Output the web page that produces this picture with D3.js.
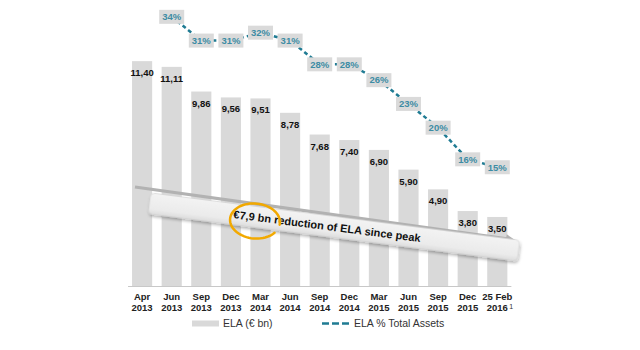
<!DOCTYPE html>
<html>
<head>
<meta charset="utf-8">
<script src="https://cdn.jsdelivr.net/npm/d3@7"></script>
<style>
  body { margin: 0; background: #fff; }
  svg { display: block; font-family: "Liberation Sans", Arial, sans-serif; }
</style>
</head>
<body>
<svg width="640" height="350"></svg>
<script>
// Chart data
const months = ['Apr', 'Jun', 'Sep', 'Dec', 'Mar', 'Jun', 'Sep', 'Dec', 'Mar', 'Jun', 'Sep', 'Dec', '25 Feb'];
const years  = ['2013', '2013', '2013', '2013', '2014', '2014', '2014', '2014', '2015', '2015', '2015', '2015', '2016'];
const elaValues = [11.40, 11.11, 9.86, 9.56, 9.51, 8.78, 7.68, 7.40, 6.90, 5.90, 4.90, 3.80, 3.50];
const pctValues = [null, 34, 31, 31, 32, 31, 28, 28, 26, 23, 20, 16, 15];
const legendLabels = ['ELA (€ bn)', 'ELA % Total Assets'];

const barColor = '#d9d9d9';
const lineColor = '#1f7b93';
const pctText = '#3d8ca4';

const svg = d3.select('svg');
const baseline = 286;

const x = d3.scaleBand()
    .domain(d3.range(months.length))
    .range([127.3, 512.1])
    .paddingInner(0.32)
    .paddingOuter(0.16);

const y = d3.scaleLinear().domain([0, 14.5]).range([baseline, 0]);
const y2 = d3.scaleLinear().domain([0, 36]).range([baseline, 1]);

const fmt = v => d3.format('.2f')(v).replace('.', ',');
const cx = i => x(i) + x.bandwidth() / 2;

// Bars
svg.append('g').selectAll('rect').data(elaValues)
  .join('rect')
    .attr('x', (d, i) => x(i))
    .attr('y', d => y(d))
    .attr('width', x.bandwidth())
    .attr('height', d => baseline - y(d))
    .attr('fill', barColor);

// Baseline
svg.append('line')
    .attr('x1', x(0) - 4).attr('x2', x(12) + x.bandwidth() + 4)
    .attr('y1', baseline + 0.5).attr('y2', baseline + 0.5)
    .attr('stroke', '#c8c8c8');

// Value labels
svg.append('g').selectAll('text').data(elaValues)
  .join('text')
    .attr('x', (d, i) => cx(i))
    .attr('y', d => y(d) + 15)
    .attr('text-anchor', 'middle')
    .attr('font-size', 9.5)
    .attr('font-weight', 'bold')
    .attr('fill', '#111')
    .text(fmt);

// Percentage line
const pctPoints = pctValues.map((p, i) => ({ p, i })).filter(d => d.p !== null);
const line = d3.line()
    .x(d => cx(d.i))
    .y(d => y2(d.p));

svg.append('path')
    .datum(pctPoints)
    .attr('d', line)
    .attr('fill', 'none')
    .attr('stroke', lineColor)
    .attr('stroke-width', 2.5)
    .attr('stroke-dasharray', '4,3');

const pctLabels = svg.append('g').selectAll('g').data(pctPoints)
  .join('g')
    .attr('transform', d => `translate(${cx(d.i)},${y2(d.p)})`);

pctLabels.append('rect')
    .attr('x', -12.5).attr('y', -7)
    .attr('width', 25).attr('height', 14)
    .attr('fill', '#dadada');

pctLabels.append('text')
    .attr('text-anchor', 'middle')
    .attr('dy', '0.35em')
    .attr('font-size', 9.5)
    .attr('font-weight', 'bold')
    .attr('fill', pctText)
    .text(d => d.p + '%');

// Category labels
const ticks = svg.append('g').selectAll('text').data(months)
  .join('text')
    .attr('x', (d, i) => cx(i))
    .attr('y', 300)
    .attr('text-anchor', 'middle')
    .attr('font-size', 9.5)
    .attr('font-weight', 'bold')
    .attr('fill', '#222');
ticks.append('tspan').text(d => d);
ticks.append('tspan')
    .attr('x', (d, i) => cx(i))
    .attr('dy', 11)
    .text((d, i) => years[i]);

// Footnote marker after the last year
svg.append('text')
    .attr('x', cx(12) + 12)
    .attr('y', 309)
    .attr('font-size', 7)
    .attr('fill', '#333')
    .text('1');

// Annotation: arrow and banner
const defs = svg.append('defs');
const shadow = defs.append('filter').attr('id', 'shadow')
    .attr('x', '-10%').attr('y', '-50%').attr('width', '120%').attr('height', '200%');
shadow.append('feDropShadow')
    .attr('dx', 1).attr('dy', 2).attr('stdDeviation', 1.5)
    .attr('flood-color', '#000').attr('flood-opacity', 0.3);

const grad = defs.append('linearGradient').attr('id', 'bannerGrad')
    .attr('x1', 0).attr('y1', 0).attr('x2', 0).attr('y2', 1);
grad.append('stop').attr('offset', '0%').attr('stop-color', '#f3f3f3');
grad.append('stop').attr('offset', '75%').attr('stop-color', '#ebebeb');
grad.append('stop').attr('offset', '100%').attr('stop-color', '#dcdcdc');

const arrowA = [135, 187], arrowB = [515, 240];
const ang = Math.atan2(arrowB[1] - arrowA[1], arrowB[0] - arrowA[0]) * 180 / Math.PI;
const arrowLen = Math.hypot(arrowB[0] - arrowA[0], arrowB[1] - arrowA[1]);
const arrow = svg.append('g')
    .attr('transform', `translate(${arrowA[0]},${arrowA[1]}) rotate(${ang})`);
arrow.append('rect')
    .attr('x', 0).attr('y', -1.6)
    .attr('width', arrowLen - 8).attr('height', 3.2)
    .attr('fill', '#b2b2b2');
arrow.append('path')
    .attr('d', `M${arrowLen - 9},-4.5 L${arrowLen},0 L${arrowLen - 9},4.5 Z`)
    .attr('fill', '#b2b2b2');

const banner = svg.append('g')
    .attr('transform', 'translate(334,227) rotate(7.3)');
banner.append('rect')
    .attr('x', -186).attr('y', -10.5)
    .attr('width', 372).attr('height', 21)
    .attr('rx', 4)
    .attr('fill', 'url(#bannerGrad)')
    .attr('stroke', '#d0d0d0')
    .attr('stroke-width', 0.6)
    .attr('filter', 'url(#shadow)');
banner.append('text')
    .attr('x', -7)
    .attr('y', 4)
    .attr('text-anchor', 'middle')
    .attr('font-size', 11)
    .attr('font-weight', 'bold')
    .attr('fill', '#111')
    .text('€7,9 bn reduction of ELA since peak');

// Orange ring around the amount
const ring = d3.path();
const rx = 25, ry = 17.5;
for (let k = 0; k <= 60; k++) {
  const t = (35 + k * (330 / 60)) * Math.PI / 180;
  const px = rx * Math.cos(t), py = ry * Math.sin(t);
  if (k === 0) ring.moveTo(px, py); else ring.lineTo(px, py);
}
svg.append('path')
    .attr('transform', 'translate(255,221) rotate(5)')
    .attr('d', ring.toString())
    .attr('fill', 'none')
    .attr('stroke', '#f2a900')
    .attr('stroke-width', 2.5)
    .attr('stroke-linecap', 'round');

// Legend
const legend = svg.append('g');
legend.append('rect')
    .attr('x', 192).attr('y', 320.5)
    .attr('width', 27).attr('height', 6)
    .attr('fill', barColor);
legend.append('text')
    .attr('x', 223).attr('y', 327)
    .attr('font-size', 10.5)
    .attr('fill', '#333')
    .text(legendLabels[0]);
legend.append('line')
    .attr('x1', 322).attr('x2', 349)
    .attr('y1', 323.5).attr('y2', 323.5)
    .attr('stroke', lineColor)
    .attr('stroke-width', 2.5)
    .attr('stroke-dasharray', '7,3');
legend.append('text')
    .attr('x', 354).attr('y', 327)
    .attr('font-size', 10.5)
    .attr('fill', '#333')
    .text(legendLabels[1]);
</script>
</body>
</html>
